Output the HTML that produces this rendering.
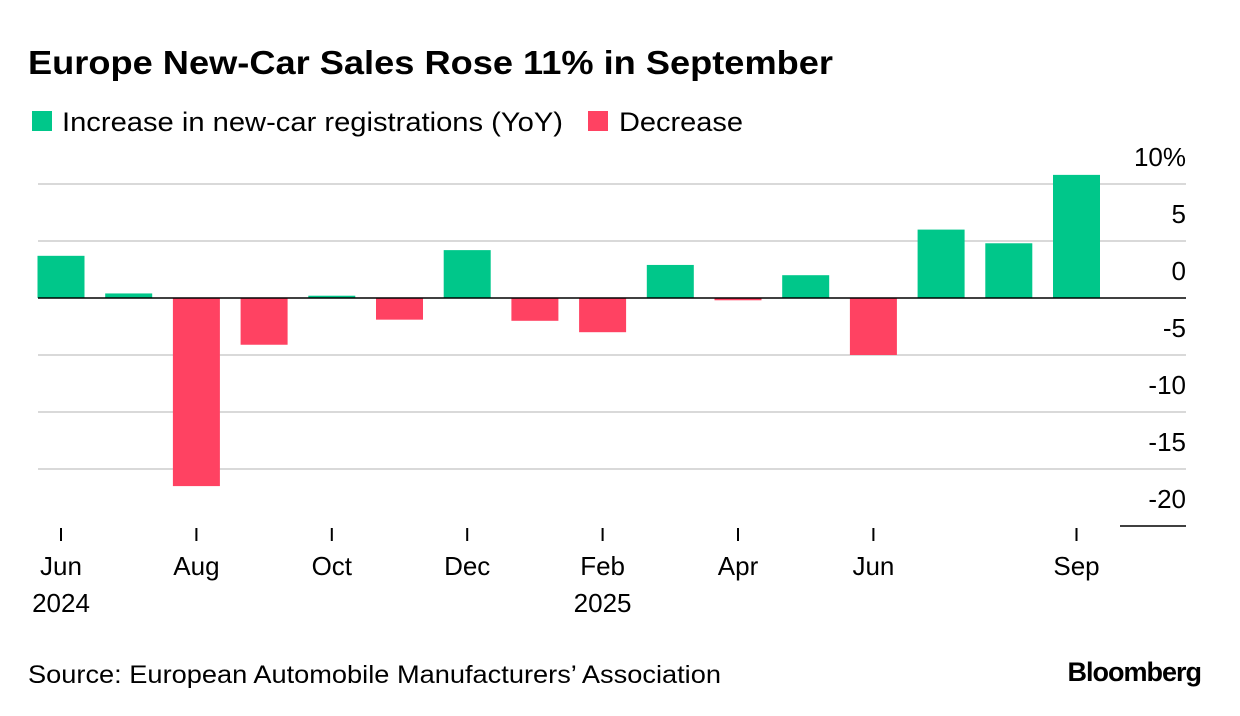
<!DOCTYPE html>
<html><head><meta charset="utf-8"><style>
body{margin:0;background:#fff;font-family:"Liberation Sans",Arial,sans-serif;}
#wrap{position:relative;width:1240px;height:716px;overflow:hidden}
</style></head><body>
<div id="wrap">
<svg id="chart" width="1240" height="716">
<text x="28" y="74" font-size="33" font-weight="bold" fill="#000" textLength="805" lengthAdjust="spacingAndGlyphs">Europe New-Car Sales Rose 11% in September</text>
<g>
<rect x="32" y="111" width="20" height="20" fill="#00c78a"/>
<text x="62" y="131" font-size="27" fill="#000" textLength="501" lengthAdjust="spacingAndGlyphs">Increase in new-car registrations (YoY)</text>
<rect x="588" y="111" width="20" height="20" fill="#ff4262"/>
<text x="619" y="131" font-size="27" fill="#000" textLength="124" lengthAdjust="spacingAndGlyphs">Decrease</text>
</g>
<g id="grid"></g><g id="bars"></g><g id="axes"></g>
<text x="28" y="683" font-size="25" fill="#000" textLength="693" lengthAdjust="spacingAndGlyphs">Source: European Automobile Manufacturers’ Association</text>
<text x="1201" y="681" font-size="27" font-weight="bold" fill="#000" text-anchor="end" letter-spacing="-1">Bloomberg</text>
</svg>
</div>
<script>
const months=["Jun 2024","Jul 2024","Aug 2024","Sep 2024","Oct 2024","Nov 2024","Dec 2024","Jan 2025","Feb 2025","Mar 2025","Apr 2025","May 2025","Jun 2025","Jul 2025","Aug 2025","Sep 2025"];
const values=[3.7,0.4,-16.5,-4.1,0.2,-1.9,4.2,-2.0,-3.0,2.9,-0.2,2.0,-5.0,6.0,4.8,10.8];
const yTicks=[10,5,0,-5,-10,-15,-20];
const yTickLabels=["10%","5","0","-5","-10","-15","-20"];
const xTickIdx=[0,2,4,6,8,10,12,15];
const xTickLabels=["Jun","Aug","Oct","Dec","Feb","Apr","Jun","Sep"];
const xYearLabels=["2024","","","","2025","","",""];
const NS="http://www.w3.org/2000/svg";
const y=v=>298-v*11.4;
const x=i=>61+i*67.7;
const bw=47;
function mk(t,a,p){const e=document.createElementNS(NS,t);for(const k in a)e.setAttribute(k,a[k]);p.appendChild(e);return e;}
const grid=document.getElementById('grid'),bars=document.getElementById('bars'),axes=document.getElementById('axes');
yTicks.forEach((v,i)=>{
 if(v!==0&&v!==-20){const l=mk('line',{x1:38,x2:1186,y1:y(v),y2:y(v),stroke:'#d9d9d9','stroke-width':2},grid);
 
 }
 const t=mk('text',{x:1186,y:y(v)-18,'font-size':26,'text-anchor':'end',fill:'#000'},axes);
 t.textContent=yTickLabels[i];
 
 
});
values.forEach((v,i)=>{
 const r=mk('rect',{x:x(i)-bw/2,y:Math.min(y(v),y(0)),width:bw,height:Math.max(Math.abs(y(v)-y(0)),1),fill:v>=0?'#00c78a':'#ff4262'},bars);
 
 
});
const z=mk('line',{x1:38,x2:1186,y1:y(0),y2:y(0),stroke:'#000','stroke-width':1.5},axes);


const b=mk('line',{x1:1120,x2:1186,y1:y(-20),y2:y(-20),stroke:'#000','stroke-width':1.5},axes);


xTickIdx.forEach((idx,i)=>{
 const tk=mk('line',{x1:x(idx),x2:x(idx),y1:528,y2:541,stroke:'#000','stroke-width':2},axes);
 
 
 const t=mk('text',{x:x(idx),y:575,'font-size':26,'text-anchor':'middle',fill:'#000'},axes);
 t.textContent=xTickLabels[i];
 
 
 if(xYearLabels[i]){const yt=mk('text',{x:x(idx),y:612,'font-size':26,'text-anchor':'middle',fill:'#000'},axes);
 yt.textContent=xYearLabels[i];
 
 }
});
</script>
</body></html>
